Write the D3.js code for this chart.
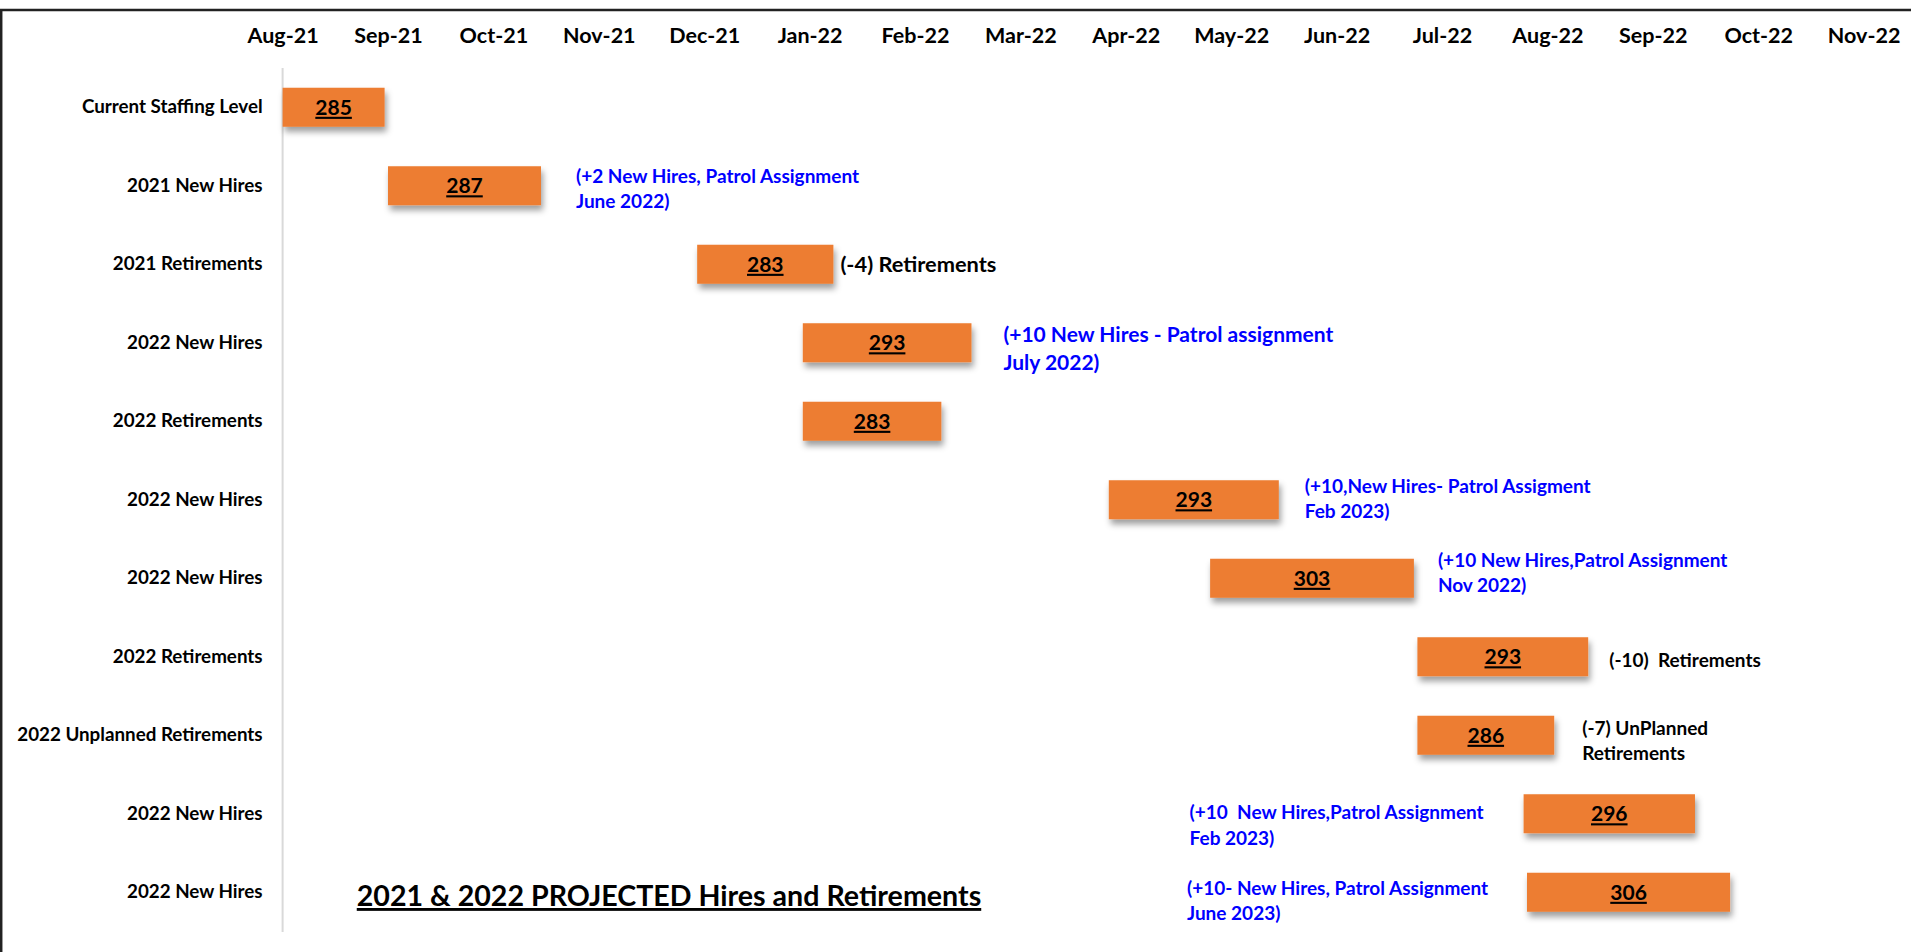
<!DOCTYPE html>
<html lang="en">
<head>
    <meta charset="UTF-8">
    <title>2021 & 2022 PROJECTED Hires and Retirements</title>
    <style>
        body { margin: 0; background: #fff; }
        svg text { font-family: Lato, "Open Sans", sans-serif; font-weight: bold; white-space: pre; }
        .domain-line { stroke: #d9d9d9; stroke-width: 2px; }
    </style>
</head>
<body>
    <div id="chart"></div>

    <script src="https://d3js.org/d3.v7.min.js"></script>
    <script>
        // ---- data ----
        var monthLabels = ["Aug-21", "Sep-21", "Oct-21", "Nov-21", "Dec-21", "Jan-22", "Feb-22", "Mar-22",
            "Apr-22", "May-22", "Jun-22", "Jul-22", "Aug-22", "Sep-22", "Oct-22", "Nov-22"];

        var rowLabels = ["Current Staffing Level", "2021 New Hires", "2021 Retirements", "2022 New Hires",
            "2022 Retirements", "2022 New Hires", "2022 New Hires", "2022 Retirements",
            "2022 Unplanned Retirements", "2022 New Hires", "2022 New Hires"];

        var startDates = ["2021-08-01", "2021-09-01", "2021-11-29", "2021-12-30", "2021-12-30", "2022-03-27",
            "2022-04-25", "2022-06-24", "2022-06-24", "2022-07-25", "2022-07-26"];

        var endDates = ["2021-08-31", "2021-10-15", "2022-01-08", "2022-02-16", "2022-02-08", "2022-05-15",
            "2022-06-23", "2022-08-13", "2022-08-03", "2022-09-13", "2022-09-23"];

        var staffLevels = [285, 287, 283, 293, 283, 293, 303, 293, 286, 296, 306];

        var notes = [
            [],
            ["(+2 New Hires, Patrol Assignment", "June 2022)"],
            ["(-4) Retirements"],
            ["(+10 New Hires - Patrol assignment", "July 2022)"],
            [],
            ["(+10,New Hires- Patrol Assigment", "Feb 2023)"],
            ["(+10 New Hires,Patrol Assignment", "Nov 2022)"],
            ["(-10)  Retirements"],
            ["(-7) UnPlanned", "Retirements"],
            ["(+10  New Hires,Patrol Assignment", "Feb 2023)"],
            ["(+10- New Hires, Patrol Assignment", "June 2023)"]
        ];

        var noteKinds = ["", "hire", "ret", "hire", "", "hire", "hire", "ret", "ret", "hire", "hire"];

        var chartTitle = "2021 & 2022 PROJECTED Hires and Retirements";

        // ---- layout (pixels, not data) ----
        // note placement relative to the bar: side, gap, first line shift, size, line step
        var noteLayout = [
            null,
            { side: "right", gap: 35, dy: -9, size: 19, step: 25 },
            { side: "right", gap: 7, dy: 0, size: 21.8, step: 25 },
            { side: "right", gap: 32, dy: -8, size: 21, step: 28 },
            null,
            { side: "right", gap: 26, dy: -13, size: 19, step: 25 },
            { side: "right", gap: 24, dy: -18, size: 19, step: 25 },
            { side: "right", gap: 21, dy: 4, size: 19, step: 25 },
            { side: "right", gap: 28, dy: -7, size: 19, step: 25 },
            { side: "left", gap: 334, dy: -1, size: 19, step: 26 },
            { side: "left", gap: 340, dy: -4, size: 19, step: 25 }
        ];

        var W = 1911, H = 952;
        var colors = { bar: "#ED7D31", hire: "#0000FF", ret: "#000000" };

        var svg = d3.select("#chart").append("svg")
            .attr("width", W)
            .attr("height", H);

        // drop shadow under bars
        var defs = svg.append("defs");
        var f = defs.append("filter").attr("id", "shadow")
            .attr("x", "-10%").attr("y", "-20%").attr("width", "130%").attr("height", "160%");
        f.append("feDropShadow")
            .attr("dx", 2).attr("dy", 5).attr("stdDeviation", 3)
            .attr("flood-color", "#000").attr("flood-opacity", 0.38);

        // frame: top and left border
        svg.append("line").attr("x1", 0).attr("x2", W).attr("y1", 10).attr("y2", 10)
            .attr("stroke", "#222").attr("stroke-width", 2.5);
        svg.append("line").attr("x1", 1.2).attr("x2", 1.2).attr("y1", 9).attr("y2", H)
            .attr("stroke", "#222").attr("stroke-width", 2.5);

        // Excel date axis with month base unit: every month gets the same width
        function monthValue(s) {
            var d = d3.timeParse("%Y-%m-%d")(s);
            var m = (d.getFullYear() - 2021) * 12 + d.getMonth() - 7;
            var days = new Date(d.getFullYear(), d.getMonth() + 1, 0).getDate();
            return m + (d.getDate() - 1) / days;
        }

        var x = d3.scaleLinear()
            .domain([0, monthLabels.length - 1])
            .range([282.6, 1863.6]);

        var y = d3.scaleBand()
            .domain(d3.range(rowLabels.length))
            .range([68, 931.5])
            .paddingInner(0.503)
            .paddingOuter(0.2515);

        // top month axis
        var xAxis = svg.append("g")
            .attr("transform", "translate(0,43)")
            .call(d3.axisTop(x)
                .tickValues(d3.range(monthLabels.length))
                .tickFormat(function (i) { return monthLabels[i]; })
                .tickSize(0)
                .tickPadding(0));
        xAxis.select(".domain").remove();
        xAxis.selectAll("text")
            .attr("fill", "#000")
            .style("font-size", "21.5px");

        // left category axis
        var yAxis = svg.append("g")
            .attr("transform", "translate(" + x(0) + ",0)")
            .call(d3.axisLeft(y)
                .tickFormat(function (i) { return rowLabels[i]; })
                .tickSize(0)
                .tickPadding(20));
        yAxis.select(".domain").attr("class", "domain-line").attr("d", "M0,68V932");
        yAxis.selectAll("text")
            .attr("fill", "#000")
            .style("font-size", "18.8px");

        var rows = d3.range(rowLabels.length).map(function (i) {
            return {
                i: i,
                x0: x(monthValue(startDates[i])),
                x1: x(monthValue(endDates[i])),
                value: staffLevels[i]
            };
        });

        var bars = svg.append("g").selectAll("g")
            .data(rows)
            .join("g");

        bars.append("rect")
            .attr("x", function (d) { return d.x0; })
            .attr("y", function (d) { return y(d.i); })
            .attr("width", function (d) { return d.x1 - d.x0; })
            .attr("height", y.bandwidth())
            .attr("fill", colors.bar)
            .attr("filter", "url(#shadow)");

        bars.append("text")
            .attr("x", function (d) { return (d.x0 + d.x1) / 2; })
            .attr("y", function (d) { return y(d.i) + y.bandwidth() / 2; })
            .attr("dy", "0.36em")
            .attr("text-anchor", "middle")
            .attr("text-decoration", "underline")
            .style("font-size", "21px")
            .attr("fill", "#000")
            .text(function (d) { return d.value; });

        // side notes, one tspan per line
        var noteG = svg.append("g");
        rows.forEach(function (d) {
            var lay = noteLayout[d.i];
            if (!lay || !notes[d.i].length) return;
            var nx = lay.side === "right" ? d.x1 + lay.gap : d.x0 - lay.gap;
            var cy = y(d.i) + y.bandwidth() / 2 + lay.dy;
            var t = noteG.append("text")
                .attr("fill", colors[noteKinds[d.i]])
                .style("font-size", lay.size + "px");
            notes[d.i].forEach(function (line, k) {
                t.append("tspan")
                    .attr("x", nx)
                    .attr("y", cy + k * lay.step + lay.size * 0.35)
                    .text(line);
            });
        });

        // title
        svg.append("text")
            .attr("x", 669)
            .attr("y", 906)
            .attr("text-anchor", "middle")
            .attr("text-decoration", "underline")
            .attr("fill", "#000")
            .style("font-size", "28.6px")
            .text(chartTitle);
    </script>
</body>
</html>
